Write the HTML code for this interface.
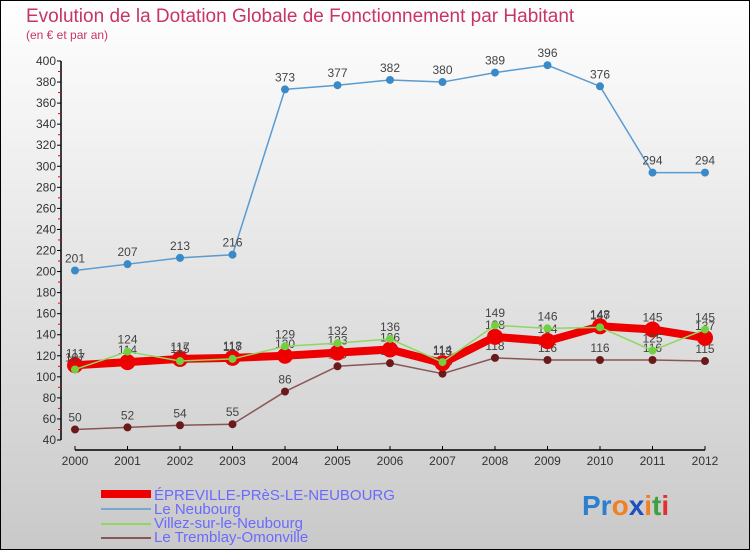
<!DOCTYPE html>
<html><head><meta charset="utf-8"><style>
body{margin:0;width:750px;height:550px;overflow:hidden;font-family:"Liberation Sans",sans-serif}
</style></head><body>
<svg id="chart" width="750" height="550" xmlns="http://www.w3.org/2000/svg" font-family="Liberation Sans, sans-serif">
<defs><linearGradient id="bg" x1="0" y1="0" x2="0" y2="1"><stop offset="0" stop-color="#ffffff"/><stop offset="1" stop-color="#c9c9c9"/></linearGradient></defs>
<rect x="0.5" y="0.5" width="749" height="549" fill="url(#bg)" stroke="#000" stroke-width="1"/>
<text x="26" y="22" font-size="19" fill="#c8336a">Evolution de la Dotation Globale de Fonctionnement par Habitant</text>
<text x="26" y="39" font-size="12" fill="#c8336a">(en € et par an)</text>
<g id="axes"></g>
<g id="series"></g>
<g>
<rect x="101" y="490" width="50" height="8" fill="#e00"/>
<text x="154" y="500" font-size="15" fill="#6a6aff">ÉPREVILLE-PRèS-LE-NEUBOURG</text>
<line x1="101" y1="509" x2="151" y2="509" stroke="#7aa7d0" stroke-width="2"/>
<text x="154" y="514" font-size="15" fill="#6a6aff">Le Neubourg</text>
<line x1="101" y1="524" x2="151" y2="524" stroke="#8ed760" stroke-width="2"/>
<text x="154" y="528" font-size="15" fill="#6a6aff">Villez-sur-le-Neubourg</text>
<line x1="101" y1="538" x2="151" y2="538" stroke="#8a5555" stroke-width="2"/>
<text x="154" y="542" font-size="15" fill="#6a6aff">Le Tremblay-Omonville</text>
</g>
<text x="582" y="515" font-size="28" font-weight="bold"><tspan fill="#2a7fd0">Pr</tspan><tspan fill="#f08020">o</tspan><tspan fill="#2050c0">x</tspan><tspan fill="#f08020">i</tspan><tspan fill="#40a040">t</tspan><tspan fill="#e03030">i</tspan></text>
</svg>
<script>
const years=[2000,2001,2002,2003,2004,2005,2006,2007,2008,2009,2010,2011,2012];
const epreville=[111,114,117,118,120,123,126,113,138,134,148,145,137];
const neubourg=[201,207,213,216,373,377,382,380,389,396,376,294,294];
const villez=[107,124,115,117,129,132,136,114,149,146,147,125,145];
const tremblay=[50,52,54,55,86,110,113,103,118,116,116,116,115];
const yTicks=[40,60,80,100,120,140,160,180,200,220,240,260,280,300,320,340,360,380,400];
const NS="http://www.w3.org/2000/svg";
function X(i){return 75+i*(705-75)/(years.length-1);}
function Y(v){return 440-(v-40)*(440-61)/360;}
function mk(tag,attrs,parent){const e=document.createElementNS(NS,tag);for(const k in attrs)e.setAttribute(k,attrs[k]);parent.appendChild(e);return e;}
const ax=document.getElementById('axes');
const yl=mk('line',{x1:61,y1:Y(400),x2:61,y2:Y(40),stroke:'#000','stroke-width':1.5},ax);


yTicks.forEach(t=>{
 mk('line',{x1:57,x2:61,y1:Y(t),y2:Y(t),stroke:'#000'},ax);
 if(t<400)mk('line',{x1:58,x2:61,y1:Y(t+10),y2:Y(t+10),stroke:'#e00'},ax);
 const tx=mk('text',{x:56,y:Y(t)+4,'font-size':12,'text-anchor':'end',fill:'#333'},ax);
 tx.textContent=t;
 
 
});
const xl=mk('line',{x1:X(0),x2:X(years.length-1),y1:450,y2:450,stroke:'#000','stroke-width':1.5},ax);


years.forEach((yr,i)=>{
 mk('line',{x1:X(i),x2:X(i),y1:446,y2:450,stroke:'#000'},ax);
 const tx=mk('text',{x:X(i),y:465,'font-size':12,'text-anchor':'middle',fill:'#333'},ax);
 tx.textContent=yr;
 
 
});
const sg=document.getElementById('series');
function series(name,data,color,w,r,dot){
 const g=mk('g',{},sg);
 
 
 mk('polyline',{points:data.map((v,i)=>X(i)+','+Y(v)).join(' '),fill:'none',stroke:color,'stroke-width':w,'stroke-linejoin':'round'},g);
 data.forEach((v,i)=>{
  const c=mk('circle',{cx:X(i),cy:Y(v),r:r,fill:dot},g);
  
  
  const t=mk('text',{x:X(i),y:Y(v)-8,'font-size':12,'text-anchor':'middle',fill:'#444'},g);
  t.textContent=v;
  
  
 });
}
series('series-tremblay',tremblay,'#8a5555',1.5,4,'#6a1a1a');
series('series-neubourg',neubourg,'#5a9bd0',1.5,4,'#3a8ac8');
series('series-epreville',epreville,'#ee0000',8,8,'#ee0000');
series('series-villez',villez,'#8ed760',1.5,4,'#70d040');
</script>
</body></html>
